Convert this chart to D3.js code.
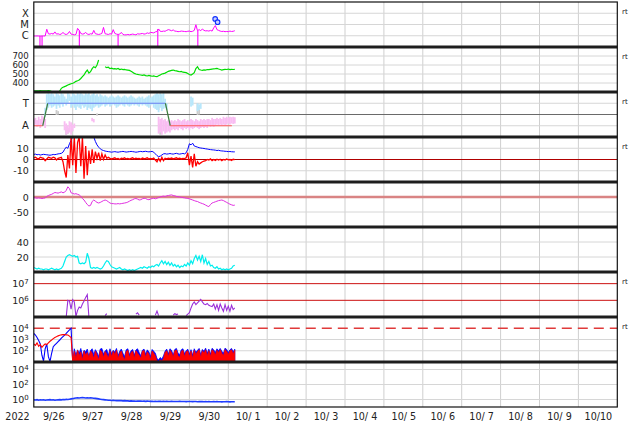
<!DOCTYPE html>
<html><head><meta charset="utf-8">
<script src="https://cdn.jsdelivr.net/npm/d3@7/dist/d3.min.js"></script>
<style>body{margin:0;background:#fff}svg{display:block}text{font-family:"DejaVu Sans",sans-serif;fill:#222}</style>
</head><body><svg id="c" width="634" height="424"></svg>
<script>
// ---------- DATA ----------
const startMs = Date.UTC(2022, 8, 26);
const endMs = Date.UTC(2022, 9, 11);
const yearLabel = "2022";
const dayLabels = ["9/26","9/27","9/28","9/29","9/30","10/ 1","10/ 2","10/ 3","10/ 4","10/ 5","10/ 6","10/ 7","10/ 8","10/ 9","10/10"];
const rtPanels = [0,1,2,3,6,7];

// hourly series from 9/26 00:00 UTC
const xrayFlux = [ // x 1e-6 W/m2
 0.95,0.95,0.96,0.95,0.94,0.95,0.96,0.95,3.8,1.5,1.4,1.6,
 1.4,2.2,1.4,1.5,1.3,1.4,2.0,1.4,1.3,1.5,2.4,1.4,
 1.3,1.2,1.3,4.5,3.0,1.6,1.4,1.5,2.0,1.4,1.3,1.5,
 1.4,3.0,1.5,1.4,1.3,1.4,1.6,5.5,1.5,1.4,1.3,1.5,
 1.4,3.5,1.6,1.4,1.3,1.4,2.0,1.3,1.2,1.2,1.3,1.2,
 1.3,1.4,1.3,1.2,1.5,1.4,1.5,1.6,1.4,1.5,1.8,1.6,
 2.0,1.9,1.8,2.2,2.4,4.0,2.5,2.4,2.6,2.5,3.0,3.5,
 3.2,2.8,3.3,2.6,2.5,2.3,2.4,2.6,2.5,2.4,2.3,2.5,
 2.6,2.3,2.5,3.0,9.5,2.8,3.5,2.8,4.0,3.0,2.7,2.8,
 2.6,3.0,2.6,5.0,8.0,3.5,3.0,2.6,2.4,2.5,2.3,2.4,
 2.3,2.6,2.4,2.5,2.8];
const xrayDipHours = [3.8, 5.1, 28.1, 52, 76.5, 101.2];
const flareHours = [111.9, 113.4];
const flareFlux = [31, 16]; // x 1e-6

const windSpeed = [
 314,314,313,314,315,314,313,314,314,315,314,305,
 298,295,296,298,310,341,352,360,368,378,385,392,
 397,405,418,425,433,450,470,489,520,544,510,526,
 560,581,570,600,656,null,null,null,581,570,575,560,
 565,558,560,555,562,550,555,548,552,545,544,540,
 530,520,507,500,495,492,489,485,490,482,478,485,
 480,475,478,472,470,480,490,500,505,510,520,530,
 535,540,544,538,535,530,525,528,520,518,515,505,
 495,489,500,515,560,581,550,544,540,545,544,550,
 548,552,555,558,560,563,555,550,544,548,552,550,
 555,548,552,550,552];

// sector polarity (T = +0.5, A = -0.5)
const sectorHours = [0, 5.5, 8.6, 81.2, 84.2, 122.2];
const sectorState = [-0.5, -0.5, 0.5, 0.5, -0.5, -0.5];
// clouds: [hour, low, high]
const cloudToward = [
 [7,-0.1,0.3],[8,0.2,0.9],[9,0.3,0.95],[10,0.4,0.9],[11,0.3,0.95],[12,0.35,0.9],[13,0.4,0.8],[14,0.25,0.95],
 [15,0.4,0.9],[16,0.3,0.85],[17,0.45,0.95],[18,0.35,0.9],[19,0.5,0.8],[20,0.4,0.7],[21,0.5,0.95],[22,0.6,0.9],
 [23,0.3,0.8],[24,0.4,0.95],[25,0.3,0.9],[26,0.2,0.85],[27,0.35,0.95],[28,0.3,0.9],[29,0.25,0.95],[30,0.4,0.9],
 [31,0.3,0.85],[32,0.35,0.95],[33,0.2,0.9],[34,0.3,0.95],[35,0.25,0.85],[36,0.15,0.9],[37,0.3,0.95],[38,0.35,0.85],
 [39,0.4,0.9],[40,0.3,0.8],[41,0.35,0.9],[42,0.4,0.85],[43,0.45,0.8],[44,0.35,0.85],[45,0.4,0.8],[46,0.45,0.75],
 [47,0.35,0.8],[48,0.4,0.85],[49,0.45,0.8],[50,0.4,0.75],[51,0.3,0.8],[52,0.35,0.85],[53,0.4,0.8],[54,0.45,0.75],
 [55,0.4,0.8],[56,0.35,0.85],[57,0.45,0.8],[58,0.4,0.75],[59,0.35,0.8],[60,0.4,0.85],[61,0.45,0.8],[62,0.4,0.75],
 [63,0.45,0.7],[64,0.4,0.75],[65,0.35,0.8],[66,0.45,0.75],[67,0.4,0.8],[68,0.45,0.7],[69,0.4,0.75],[70,0.35,0.8],
 [71,0.3,0.85],[72,0.4,0.75],[73,0.45,0.8],[74,0.3,0.85],[75,0.25,0.9],[76,0.2,0.95],[77,0.1,0.9],[78,0.3,0.95],
 [79,0.15,0.9],[80,0.25,0.95],[81,0.3,0.7],[82,0.2,0.5],
 [97,0.35,0.8],[98,0.4,0.75],[101,0.15,0.5],[102,0.2,0.45],[103,0.25,0.5]];
const cloudAway = [
 [0,-0.5,-0.2],[1,-0.45,-0.15],[2,-0.55,-0.25],[3,-0.5,-0.1],[4,-0.6,-0.2],[5,-0.45,-0.05],[6,-0.5,-0.1],[7,-0.6,-0.2],
 [19,-0.7,-0.3],[20,-0.9,-0.4],[21,-0.85,-0.5],[22,-0.8,-0.3],[23,-0.9,-0.35],[24,-0.75,-0.45],[25,-0.6,-0.4],
 [36,-0.3,-0.15],[37,-0.35,-0.2],
 [77,-0.85,-0.1],[78,-0.8,-0.2],[79,-0.9,-0.15],[80,-0.75,-0.25],[81,-0.85,-0.2],[82,-0.8,-0.3],[83,-0.75,-0.25],
 [84,-0.8,-0.3],[85,-0.7,-0.25],[86,-0.65,-0.3],[87,-0.7,-0.25],[88,-0.65,-0.3],[89,-0.7,-0.2],[90,-0.6,-0.25],
 [91,-0.65,-0.3],[92,-0.7,-0.25],[93,-0.6,-0.2],[94,-0.65,-0.3],[95,-0.6,-0.25],[96,-0.7,-0.3],[97,-0.6,-0.2],
 [98,-0.65,-0.25],[99,-0.6,-0.3],[100,-0.55,-0.2],[101,-0.6,-0.25],[102,-0.65,-0.3],[103,-0.6,-0.2],[104,-0.55,-0.25],
 [105,-0.6,-0.2],[106,-0.55,-0.25],[107,-0.6,-0.2],[108,-0.5,-0.2],[109,-0.55,-0.25],[110,-0.5,-0.15],[111,-0.55,-0.2],
 [112,-0.5,-0.2],[113,-0.45,-0.15],[114,-0.5,-0.2],[115,-0.45,-0.15],[116,-0.5,-0.2],[117,-0.45,-0.1],[118,-0.5,-0.15],
 [119,-0.45,-0.1],[120,-0.4,-0.15],[121,-0.45,-0.1],[122,-0.4,-0.12],[123,-0.42,-0.1],[124,-0.4,-0.12]];
const cloudGrey = [
 [14,-0.02,0.2],[15,0.0,0.15],[20,-0.9,-0.55],[21,-0.85,-0.6],[39,-0.05,0.05],
 [77,0.2,0.75],[78,-0.9,-0.4],[79,0.25,0.6],[101,-0.02,0.5],[102,0.0,0.35]];

const imfBt = [
 4.5,4.8,4.2,4.5,4.0,4.3,4.6,4.4,4.2,4.0,3.8,4.1,
 4.5,4.3,4.6,5.0,5.2,5.5,6.5,9,11,10,14,17,
 21,22,22,22,22,22,22,22,22,22,22,22,
 22,20,16,13,11,9.5,8.5,8,7.5,7.2,7,6.8,
 6.5,6.8,7,6.7,6.5,6.8,7,7.2,6.9,6.6,6.8,7,
 7.2,7,6.8,6.5,6.7,7,7.2,6.9,7.1,7.3,7,6.8,
 7,7.2,6.5,5,3.5,2.5,3,4,5,5.2,4.8,5,
 5.3,5,4.8,5.2,5.5,5,4.8,5.1,5.4,5,6,9,
 14,13,14.5,12,11.5,11,10.5,10.2,10,9.8,9.5,9.3,
 9,8.8,8.6,8.5,8.3,8,8.2,7.8,7.6,7.5,7.3,7.2,
 7,7.1,6.9,6.8,6.8];
const imfBz = [
 1.5,2,1,0.5,2,1.5,1,-1,0.5,2,1.5,1,
 2,1.5,-0.5,1,1.5,2,-2,-10,-16,4,-8,20,
 -5,20,-12,15,20,-6,20,-17,12,-14,8,-4,
 9,-3,7,1,6,-1,5,0,4,1,2,1,
 0.5,1,1.5,0.5,1,0,1.2,0.8,1.5,0.5,1,0.3,
 1,1.5,0.5,1.2,0.8,1,0.2,1.3,0.7,1,1.5,0.5,
 1,0.5,1.2,-0.5,-2,1,-1.5,2,-1,1,0.5,1.2,
 0.8,1.3,0.5,1,1.5,0.7,1.2,0.5,1,0.8,1.5,6,
 -5,3,-7,5,-6,-2,-4,-3,-2,-1.5,-1,0,
 -0.5,0.5,-1,0,-0.8,0.3,-0.5,0.2,-1,0,-0.5,0.5,
 -0.3,0,-0.8,0.2,-0.2];

const dstIndex = [
 -2,-3,-4,-3,-4,-5,-4,-3,2,5,7,9,
 12,15,14,13,15,17,14,16,22,34,28,14,
 12,10,11,9,7,2,-5,-10,-18,-25,-30,-28,
 -15,-10,-14,-18,-20,-18,-15,-12,-10,-12,-16,-20,
 -22,-22,-23,-23,-22,-23,-22,-21,-20,-19,-17,-14,
 -11,-9,-6,-5,-7,-10,-9,-6,-4,-5,-8,-9,
 -7,-5,-4,-6,-4,-2,0,2,3,2,4,5,
 6,7,5,4,2,1,0,-1,-2,-3,-4,-5,
 -6,-8,-10,-12,-14,-15,-18,-20,-22,-24,-27,-30,
 -32,-25,-20,-18,-16,-14,-12,-11,-10,-12,-15,-18,
 -21,-24,-26,-28,-27];

const cyanSeries = [
 6,5,4,5,4,4,3,4,4,3,4,5,4,3,4,3,4,5,
 8,14,20,22,23,22,21,22,20,21,12,11,
 12,11,13,25,18,6,5,6,5,6,5,4,
 5,8,12,15,14,10,7,6,5,4,5,6,
 4,3,4,3,2,3,2,3,2,3,4,5,
 6,5,7,6,5,7,6,8,7,9,10,8,
 12,15,11,14,10,13,9,12,8,10,7,9,
 6,8,7,10,8,12,9,15,11,18,22,16,
 21,14,23,12,18,10,14,8,9,6,5,7,
 4,5,3,4,3,4,3,4,5,8,9];

const electronFlux = [
 null,null,null,null,null,null,null,null,null,null,null,null,null,null,null,null,null,null,null,null,
 1.0e5,1.0e6,9e5,3e5,1.1e6,8e5,1.1e5,2.5e5,4e5,3.5e5,6e5,9e5,1.5e6,2.2e6,1.0e5,
 null,null,null,null,null,null,null,null,null,
 1.2e5,1.6e5,
 null,null,null,null,null,null,null,null,null,null,null,null,null,null,null,null,null,
 1.5e5,1.8e5,1.3e5,
 null,null,null,null,null,null,null,null,null,
 1.3e5,2.3e5,1.2e5,
 null,null,null,null,null,null,null,null,
 1.3e5,1.6e5,1.4e5,1.5e5,
 null,null,null,null,
 1.2e5,1.5e5,1.8e5,3.5e5,6e5,8e5,5.5e5,7e5,9e5,1.15e6,8e5,6e5,5.5e5,6.5e5,5e5,4.5e5,
 4.2e5,6e5,3e5,5.5e5,2.5e5,6e5,3.5e5,2.2e5,5.5e5,2.5e5,4.5e5,2.2e5,5e5,2.8e5,3.5e5];

const protonBlue = [
 3500,2500,1500,800,400,40,12,150,400,30,11,60,230,330,460,650,900,1300,1800,2500,3500,5000,7000,10000,12,
 150,40,120,60,160,35,110,80,140,30,
 100,150,45,125,70,30,140,160,50,95,
 130,40,150,55,110,75,160,35,90,140,
 60,30,120,150,45,100,130,40,115,150,
 70,35,110,140,50,120,80,30,130,90,
 60,20,15,25,18,35,90,140,50,150,
 110,40,130,160,60,45,120,150,55,100,
 140,50,125,40,150,70,110,160,45,130,
 90,170,60,140,50,165,120,70,150,100,
 160,90,60,170,130,70,120,160,80,140];
const protonRed = [
 400,300,500,250,350,200,300,400,350,500,700,900,1200,1500,1800,2100,2400,2600,2700,2700,2600,2500,2000,1500,12,
 90,20,110,35,80,15,95,40,70,25,
 100,60,20,90,40,15,110,75,25,85,
 50,20,100,30,90,45,110,20,60,95,
 30,15,85,110,25,70,90,20,100,60,
 40,20,90,105,25,80,50,15,95,60,
 35,12,11,15,12,20,70,100,30,110,
 70,25,100,115,35,25,90,110,30,80,
 100,30,95,20,110,45,85,120,25,100,
 60,120,35,100,30,120,90,40,110,70,
 120,60,35,125,90,45,95,120,50,110];
const noiseStart = 24;

const bottomSeries = [
 0.9,0.85,0.95,0.8,0.9,0.85,0.9,0.8,0.85,0.9,0.95,0.85,
 0.9,0.8,0.85,0.9,0.95,0.9,1.0,0.95,1.05,1.0,1.1,1.2,
 1.3,1.5,1.6,1.7,1.6,1.7,1.8,1.7,1.6,1.7,1.6,1.7,
 1.6,1.5,1.4,1.3,1.2,1.1,1.0,0.95,0.9,0.85,0.8,0.8,
 0.75,0.8,0.75,0.7,0.75,0.7,0.7,0.65,0.7,0.65,0.65,0.6,
 0.65,0.6,0.62,0.58,0.6,0.62,0.6,0.58,0.6,0.57,0.6,0.58,
 0.56,0.58,0.55,0.57,0.55,0.58,0.56,0.54,0.56,0.55,0.57,0.55,
 0.54,0.56,0.55,0.53,0.55,0.54,0.56,0.53,0.55,0.54,0.52,0.55,
 0.53,0.55,0.52,0.54,0.53,0.51,0.53,0.52,0.54,0.51,0.52,0.5,
 0.52,0.5,0.51,0.53,0.5,0.52,0.5,0.51,0.49,0.51,0.5,0.52,
 0.5,0.49,0.51,0.5,0.5];

// tick values / labels
const xrayTicks = [1e-4,1e-5,1e-6], xrayTickLabels = ["X","M","C"];
const speedTicks = [400,500,600,700];
const sectorTicks = [0.5,-0.5], sectorTickLabels = ["T","A"];
const imfTicks = [10,0,-10];
const dstTicks = [0,-50];
const cyanTicks = [20,40];
const elecTicks = [1e6,1e7];
const protTicks = [1e2,1e3,1e4];
const bottomTicks = [1e0,1e2,1e4];

// ---------- LAYOUT ----------
const svg = d3.select("#c");
const X0 = 33.8, X1 = 617.3, TOP = 2, PH = 45, NP = 9;
const x = d3.scaleUtc().domain([new Date(startMs), new Date(endMs)]).range([X0, X1]);
const tH = h => new Date(startMs + h * 3600e3);
const panels = d3.range(NP).map(i => ({top: TOP + i * PH, bot: TOP + (i + 1) * PH}));
const yS = [
  d3.scaleLog().domain([1e-7,1e-3]),
  d3.scaleLinear().domain([300,800]),
  d3.scaleLinear().domain([-1,1]),
  d3.scaleLinear().domain([-20,20]),
  d3.scaleLinear().domain([-100,50]),
  d3.scaleLinear().domain([0,60]),
  d3.scaleLog().domain([1e5,5e7]),
  d3.scaleLog().domain([10,1e5]),
  d3.scaleLog().domain([0.1,1e5])
];
yS.forEach((s, i) => s.range([panels[i].bot, panels[i].top]));

const defs = svg.append("defs");
panels.forEach((p, i) => defs.append("clipPath").attr("id", "cp" + i)
  .append("rect").attr("x", X0).attr("y", p.top).attr("width", X1 - X0).attr("height", PH));

// vertical day gridlines
const grid = svg.append("g");
d3.utcDay.range(new Date(startMs + 864e5), new Date(endMs)).forEach(d => {
  grid.append("line").attr("x1", x(d)).attr("x2", x(d)).attr("y1", TOP).attr("y2", TOP + NP * PH)
    .attr("stroke", "#cfcfcf").attr("stroke-width", 1);
});
// horizontal gridlines
function hline(i, v, color, w, dash) {
  const l = svg.append("line").attr("x1", X0).attr("x2", X1)
    .attr("y1", yS[i](v)).attr("y2", yS[i](v)).attr("stroke", color).attr("stroke-width", w);
  if (dash) l.attr("stroke-dasharray", dash);
}
const lg = "#d6d6d6";
xrayTicks.forEach(v => hline(0, v, lg, 1));
speedTicks.forEach(v => hline(1, v, lg, 1));
sectorTicks.forEach(v => hline(2, v, lg, 1));
hline(2, 0, "#6a6a6a", 1);
hline(3, 10, lg, 1); hline(3, -10, lg, 1); hline(3, 0, "#b00000", 1);
hline(4, -50, lg, 1); hline(4, 0, "#d98484", 2.5);
cyanTicks.forEach(v => hline(5, v, lg, 1));
elecTicks.forEach(v => hline(6, v, "#cc1111", 1));
hline(7, 1e2, lg, 1); hline(7, 1e3, lg, 1); hline(7, 1e4, "#e03a3a", 1.5, "10,6");
bottomTicks.forEach(v => hline(8, v, lg, 1));

function pg(i) { return svg.append("g").attr("clip-path", "url(#cp" + i + ")"); }
function lineOf(i, acc) {
  return d3.line().defined(d => d != null).x((d, k) => x(tH(k))).y(d => yS[i](acc ? acc(d) : d));
}

// Panel 0: X-ray
const g0 = pg(0);
xrayDipHours.forEach(h => {
  const v = xrayFlux[Math.round(h)] * 1e-6;
  g0.append("line").attr("x1", x(tH(h))).attr("x2", x(tH(h))).attr("y1", yS[0](v)).attr("y2", panels[0].bot)
    .attr("stroke", "#ff00ff").attr("stroke-width", 1.1);
});
g0.append("path").datum(xrayFlux).attr("d", lineOf(0, d => d * 1e-6))
  .attr("fill", "none").attr("stroke", "#ff00ff").attr("stroke-width", 1);
flareHours.forEach((h, k) => g0.append("circle").attr("cx", x(tH(h))).attr("cy", yS[0](flareFlux[k] * 1e-6))
  .attr("r", 2.3).attr("fill", "#c8d0ff").attr("stroke", "#1030ff").attr("stroke-width", 1.1));

// Panel 1: wind speed
pg(1).append("path").datum(windSpeed).attr("d", lineOf(1))
  .attr("fill", "none").attr("stroke", "#00dd00").attr("stroke-width", 1.2);

// Panel 2: sector
const g2 = pg(2);
function cloud(arr, color) {
  arr.forEach(([h, lo, hi]) => g2.append("rect").attr("x", x(tH(h)) - 0.9).attr("width", 1.8)
    .attr("y", yS[2](hi)).attr("height", yS[2](lo) - yS[2](hi)).attr("fill", color));
}
cloud(cloudGrey, "#cdcdcd");
cloud(cloudAway, "#f9bdf2");
cloud(cloudToward, "#b8e7fb");
for (let k = 0; k < sectorHours.length - 1; k++) {
  const a = sectorState[k], b = sectorState[k + 1];
  const col = a !== b ? "#3f7f3f" : (a > 0 ? "#6a7ff0" : "#ff5a5a");
  g2.append("line").attr("x1", x(tH(sectorHours[k]))).attr("x2", x(tH(sectorHours[k + 1])))
    .attr("y1", yS[2](a)).attr("y2", yS[2](b)).attr("stroke", col).attr("stroke-width", 1.2);
}

// Panel 3: IMF
const g3 = pg(3);
g3.append("path").datum(imfBt).attr("d", lineOf(3)).attr("fill", "none").attr("stroke", "#0000ff").attr("stroke-width", 1);
g3.append("path").datum(imfBz).attr("d", lineOf(3)).attr("fill", "none").attr("stroke", "#ff0000").attr("stroke-width", 1.3);

// Panel 4: Dst
pg(4).append("path").datum(dstIndex).attr("d", lineOf(4)).attr("fill", "none").attr("stroke", "#e02de0").attr("stroke-width", 1);

// Panel 5: cyan
pg(5).append("path").datum(cyanSeries).attr("d", lineOf(5)).attr("fill", "none").attr("stroke", "#00eeee").attr("stroke-width", 1.2);

// Panel 6: electrons
pg(6).append("path").datum(electronFlux).attr("d", lineOf(6)).attr("fill", "none").attr("stroke", "#9b30d9").attr("stroke-width", 1.1);

// Panel 7: protons
const g7 = pg(7);
function protonDraw(arr, color) {
  const area = d3.area().defined((d, k) => k >= noiseStart).x((d, k) => x(tH(k)))
    .y0(panels[7].bot).y1(d => yS[7](d));
  g7.append("path").datum(arr).attr("d", area).attr("fill", color).attr("stroke", color).attr("stroke-width", 0.8);
  const ln = d3.line().defined((d, k) => k <= noiseStart).x((d, k) => x(tH(k))).y(d => yS[7](d));
  g7.append("path").datum(arr).attr("d", ln).attr("fill", "none").attr("stroke", color).attr("stroke-width", 1.1);
}
protonDraw(protonBlue, "#0000ff");
protonDraw(protonRed, "#ff0000");

// Panel 8
pg(8).append("path").datum(bottomSeries).attr("d", lineOf(8)).attr("fill", "none").attr("stroke", "#1f3cff").attr("stroke-width", 1.6);

// separators and frame
for (let i = 1; i < NP; i++) {
  svg.append("line").attr("x1", X0).attr("x2", X1).attr("y1", panels[i].top).attr("y2", panels[i].top)
    .attr("stroke", "#1e1e1e").attr("stroke-width", 3);
}
svg.append("rect").attr("x", X0).attr("y", TOP).attr("width", X1 - X0).attr("height", NP * PH)
  .attr("fill", "none").attr("stroke", "#111").attr("stroke-width", 1.2);

// y axes
function yAxis(i, ticks, labels, sup, fs) {
  const ax = d3.axisLeft(yS[i]).tickValues(ticks).tickSize(0).tickPadding(5)
    .tickFormat((d, k) => labels ? labels[k] : (sup ? "10" : (d < 0 ? "-" + Math.abs(d) : String(d))));
  const g = svg.append("g").attr("transform", "translate(" + X0 + ",0)").call(ax);
  g.select(".domain").remove();
  g.selectAll("text").attr("font-size", fs || 9.5).attr("fill", "#222").attr("font-family", "DejaVu Sans, sans-serif");
  if (sup) {
    g.selectAll("text").each(function(d) {
      d3.select(this).append("tspan").attr("dy", "-0.45em").attr("font-size", 7).text(Math.round(Math.log10(d)));
    });
  }
}
yAxis(0, xrayTicks, xrayTickLabels, false, 10);
yAxis(1, speedTicks, null, false, 8.6);
yAxis(2, sectorTicks, sectorTickLabels, false, 10);
yAxis(3, imfTicks);
yAxis(4, dstTicks);
yAxis(5, cyanTicks);
yAxis(6, elecTicks, null, true);
yAxis(7, protTicks, null, true);
yAxis(8, bottomTicks, null, true);

// x axis labels at noon
const noonTicks = dayLabels.map((l, k) => new Date(startMs + k * 864e5 + 432e5));
const xa = svg.append("g").attr("transform", "translate(0," + (TOP + NP * PH) + ")")
  .call(d3.axisBottom(x).tickValues(noonTicks).tickSize(0).tickPadding(6).tickFormat((d, k) => dayLabels[k]));
xa.select(".domain").remove();
xa.selectAll("text").attr("font-size", 9.6).attr("fill", "#222").attr("font-family", "DejaVu Sans, sans-serif");
svg.append("text").attr("x", 17.5).attr("y", 420).attr("text-anchor", "middle").attr("font-size", 9.6).text(yearLabel);

// rt labels
rtPanels.forEach(i => svg.append("text").attr("x", 622).attr("y", panels[i].top + 12).attr("font-size", 7)
  .attr("fill", "#333").text("rt"));
</script></body></html>
